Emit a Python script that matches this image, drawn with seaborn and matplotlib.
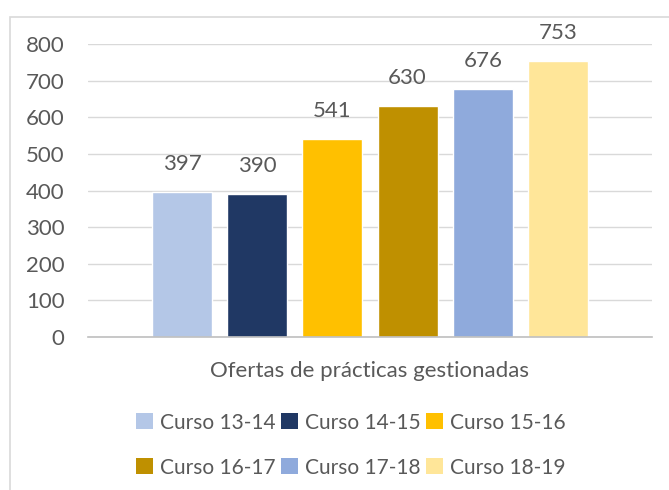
import pandas as pd
import matplotlib.pyplot as plt
import seaborn as sns
from matplotlib.patches import Rectangle, Patch

cursos = ['Curso 13-14', 'Curso 14-15', 'Curso 15-16', 'Curso 16-17', 'Curso 17-18', 'Curso 18-19']
ofertas = [397, 390, 541, 630, 676, 753]
colores = ['#B4C7E7', '#203864', '#FFC000', '#BF9000', '#8FAADC', '#FFE699']
categoria = 'Ofertas de prácticas gestionadas'

df = pd.DataFrame({'grupo': [categoria] * len(cursos), 'curso': cursos, 'ofertas': ofertas})

sns.set_theme(style='white')
plt.rcParams['font.family'] = ['Lato', 'DejaVu Sans']
texto = '#595959'

fig = plt.figure(figsize=(6.69, 4.9), dpi=100)
fig.patches.append(Rectangle((10 / 669, -0.1), 1.2, 1 - 17 / 490 + 0.1, transform=fig.transFigure,
                             fill=False, edgecolor='#d9d9d9', linewidth=1.2))
ax = fig.add_axes([88 / 669, 1 - 337 / 490, 564 / 669, 293 / 490])

sns.barplot(data=df, x='grupo', y='ofertas', hue='curso', palette=colores,
            width=0.8, gap=0.2, legend=False, ax=ax, saturation=1)

for c in ax.containers:
    ax.bar_label(c, padding=13, fontsize=16, color=texto)

ax.set_ylim(0, 800)
ax.set_xlim(-0.5, 0.5)
ax.set_yticks(range(0, 801, 100))
ax.yaxis.grid(True, color='#d9d9d9', linewidth=1)
ax.set_axisbelow(True)
ax.set_xlabel('')
ax.set_ylabel('')
ax.tick_params(axis='y', length=0, pad=17, labelsize=16, labelcolor=texto)
ax.tick_params(axis='x', length=0, pad=17, labelsize=16, labelcolor=texto)
for s in ['top', 'right', 'left']:
    ax.spines[s].set_visible(False)
ax.spines['bottom'].set_color('#bfbfbf')
ax.spines['bottom'].set_linewidth(1.2)

# legend fills column by column, so reorder to read row by row
orden = [0, 3, 1, 4, 2, 5]
handles = [Patch(facecolor=colores[i], edgecolor='none') for i in orden]
etiquetas = [cursos[i] for i in orden]
fig.legend(handles, etiquetas, ncol=3, loc='center', bbox_to_anchor=(351 / 669, 1 - 445 / 490),
           frameon=False, fontsize=15, labelcolor=texto, handlelength=0.8, handleheight=0.8,
           handletextpad=0.35, columnspacing=0.25, labelspacing=1.2)

fig.savefig('out.png', dpi=100)
